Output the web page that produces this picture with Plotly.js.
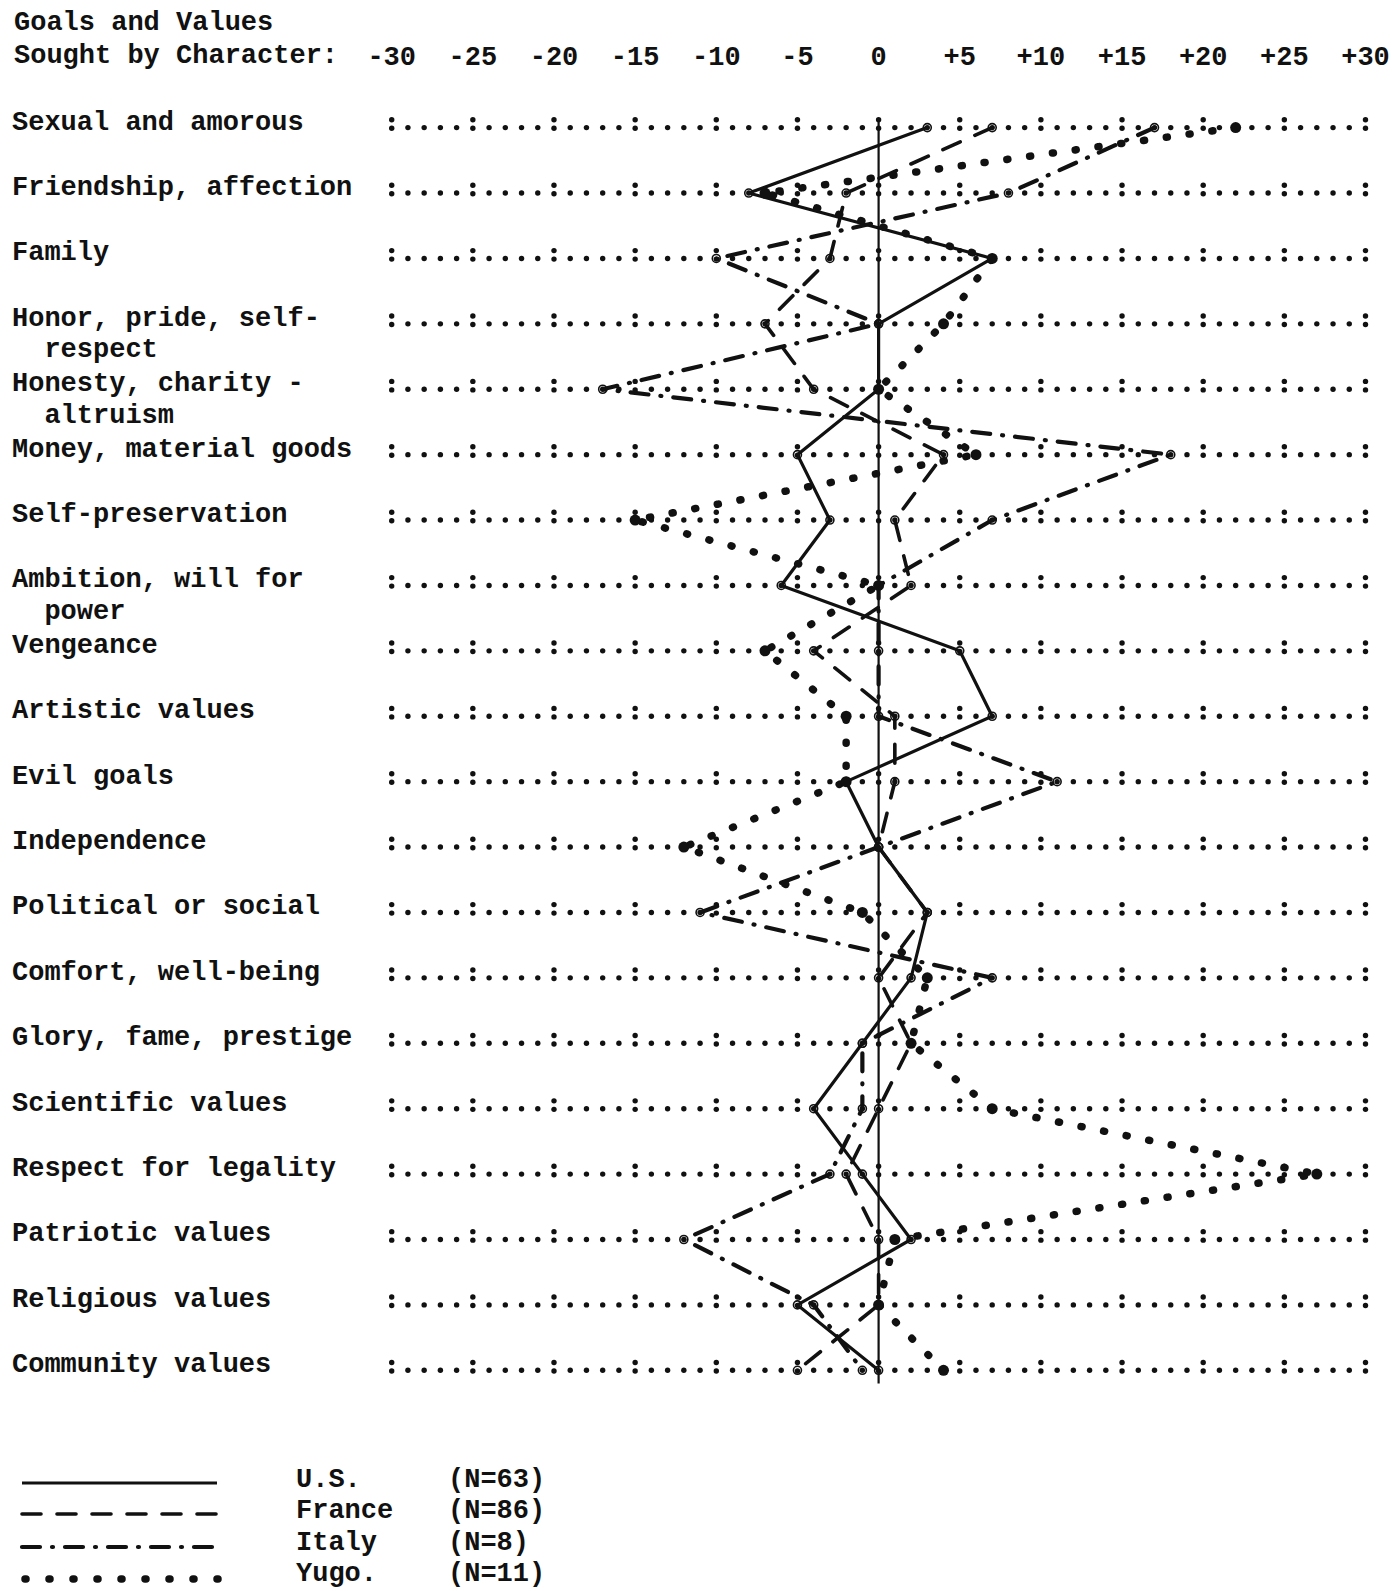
<!DOCTYPE html>
<html>
<head>
<meta charset="utf-8">
<script src="https://cdn.plot.ly/plotly-3.0.1.min.js"></script>
<style>
  html, body { margin: 0; padding: 0; background: #ffffff; }
  #chart { width: 1394px; height: 1591px; }
</style>
</head>
<body>
<div id="chart"></div>
<script>
// Goals and values sought by characters, scored per country (-30 .. +30)
const categories = [
  "Sexual and amorous",
  "Friendship, affection",
  "Family",
  "Honor, pride, self-\n  respect",
  "Honesty, charity -\n  altruism",
  "Money, material goods",
  "Self-preservation",
  "Ambition, will for\n  power",
  "Vengeance",
  "Artistic values",
  "Evil goals",
  "Independence",
  "Political or social",
  "Comfort, well-being",
  "Glory, fame, prestige",
  "Scientific values",
  "Respect for legality",
  "Patriotic values",
  "Religious values",
  "Community values"
];

const usValues     = [3, -8, 7, 0, 0, -5, -3, -6, 5, 7, -2, 0, 3, 2, -1, -4, -1, 2, -5, 0];
const franceValues = [7, -2, -3, -7, -4, 4, 1, 2, -4, 1, 1, 0, 3, 0, 2, 0, -2, 0, 0, -5];
const italyValues  = [17, 8, -10, 0, -17, 18, 7, 0, 0, 0, 11, 0, -11, 7, -1, -1, -3, -12, -4, -1];
const yugoValues   = [22, -7, 7, 4, 0, 6, -15, 0, -7, -2, -2, -12, -1, 3, 2, 7, 27, 1, 0, 4];

const seriesNames = ["U.S.", "France", "Italy", "Yugo."];
const sampleSizes = [63, 86, 8, 11];

const tickValues = [-30, -25, -20, -15, -10, -5, 0, 5, 10, 15, 20, 25, 30];
const tickLabels = ["-30", "-25", "-20", "-15", "-10", "-5", "0", "+5", "+10", "+15", "+20", "+25", "+30"];

const headerLines = ["Goals and Values", "Sought by Character:"];

// ---- styling ----
const INK = "#111111";
const FONT = { family: "'Liberation Mono', 'Courier New', monospace", size: 27, color: INK, weight: "bold" };

const seriesStyles = [
  { line: { color: INK, width: 3.2 }, marker: { symbol: "circle-open", size: 8, color: INK, line: { width: 1.6, color: INK } } },
  { line: { color: INK, width: 3.6, dash: "19px,16px" }, marker: { symbol: "circle-open", size: 8, color: INK, line: { width: 1.6, color: INK } }, round: true },
  { line: { color: INK, width: 4.2, dash: "18px,12px,1px,12px" }, marker: { symbol: "circle-open", size: 8, color: INK, line: { width: 1.6, color: INK } }, round: true },
  { line: { color: INK, width: 7.5, dash: "1px,22px" }, marker: { symbol: "circle", size: 11, color: INK }, round: true }
];
const seriesData = [usValues, franceValues, italyValues, yugoValues];

const rows = categories.map((_, i) => i);
const xMin = tickValues[0], xMax = tickValues[tickValues.length - 1];

// ---- typed row guides: a period at every unit, a colon at every tick ----
const dotX = [], dotY = [], colonX = [], colonTopY = [], colonBotY = [];
rows.forEach(r => {
  for (let v = xMin; v <= xMax; v++) {
    if (tickValues.includes(v)) {
      colonX.push(v); colonTopY.push(r - 0.12); colonBotY.push(r + 0.01);
    } else {
      dotX.push(v); dotY.push(r);
    }
  }
});

const guideMarker = { symbol: "circle", size: 5.4, color: INK };
const traces = [];
traces.push({ x: dotX, y: dotY, mode: "markers", type: "scatter", hoverinfo: "skip", cliponaxis: false, marker: guideMarker });
traces.push({ x: colonX, y: colonTopY, mode: "markers", type: "scatter", hoverinfo: "skip", cliponaxis: false, marker: guideMarker });
traces.push({ x: colonX, y: colonBotY, mode: "markers", type: "scatter", hoverinfo: "skip", cliponaxis: false, marker: guideMarker });

// zero reference line
traces.push({ x: [0, 0], y: [-0.13, rows.length - 1 + 0.2], mode: "lines", type: "scatter", hoverinfo: "skip",
  cliponaxis: false, line: { color: INK, width: 2.2 } });

// country profiles
seriesData.forEach((vals, k) => {
  const st = seriesStyles[k];
  traces.push({
    x: vals, y: rows, name: seriesNames[k], type: "scatter", mode: "lines+markers",
    cliponaxis: false, line: st.line, marker: st.marker, meta: st.round ? "round" : "plain"
  });
});

// legend samples, drawn on a full-page pixel axis pair
const legendY = [1483, 1514, 1547, 1579];
seriesNames.forEach((nm, k) => {
  const st = seriesStyles[k];
  traces.push({
    x: k === 3 ? [25, 218] : [22, 217], y: [legendY[k], legendY[k]],
    xaxis: "x2", yaxis: "y2", type: "scatter", mode: "lines", hoverinfo: "skip",
    cliponaxis: false, line: Object.assign({}, st.line, k === 3 ? { dash: "1px,23px" } : {}),
    meta: st.round ? "round" : "plain"
  });
});

const annotations = [];
// category labels
categories.forEach((c, i) => {
  c.split("\n").forEach((ln, j) => {
    annotations.push({
      text: ln.replace(/ /g, "\u00a0"), xref: "paper", x: 10 / 1394, yref: "y", y: i + j * 0.48,
      xanchor: "left", yanchor: "middle", yshift: 5, showarrow: false, font: FONT
    });
  });
});
// heading
headerLines.forEach((t, j) => {
  annotations.push({
    text: t, xref: "x2", yref: "y2", x: 12, y: [23, 56][j], xanchor: "left", yanchor: "middle",
    showarrow: false, font: FONT
  });
});
// legend labels
const legendTextY = [1480, 1511, 1543, 1574];
seriesNames.forEach((nm, k) => {
  annotations.push({ text: nm, xref: "x2", yref: "y2", x: 294, y: legendTextY[k], xanchor: "left",
    yanchor: "middle", showarrow: false, font: FONT });
  annotations.push({ text: "(N=" + sampleSizes[k] + ")", xref: "x2", yref: "y2", x: 446, y: legendTextY[k],
    xanchor: "left", yanchor: "middle", showarrow: false, font: FONT });
});

const layout = {
  width: 1394, height: 1591,
  margin: { l: 0, r: 0, t: 0, b: 0 },
  paper_bgcolor: "#ffffff", plot_bgcolor: "rgba(0,0,0,0)",
  showlegend: false,
  font: FONT,
  xaxis: {
    domain: [391.7 / 1394, 1365.5 / 1394], range: [xMin, xMax], side: "top", anchor: "y",
    tickvals: tickValues, ticktext: tickLabels, ticks: "", showgrid: false, zeroline: false,
    showline: false, tickfont: FONT, ticklabelstandoff: 4, fixedrange: true
  },
  yaxis: {
    domain: [1 - 1403 / 1591, 1 - 75.3 / 1591], range: [19.5, -0.8], visible: false, fixedrange: true
  },
  xaxis2: { domain: [0, 1], range: [0, 1394], visible: false, anchor: "y2", fixedrange: true },
  yaxis2: { domain: [0, 1], range: [1591, 0], visible: false, anchor: "x2", fixedrange: true },
  annotations: annotations
};

const gd = document.getElementById("chart");
Plotly.newPlot(gd, traces, layout, { staticPlot: true, displayModeBar: false }).then(() => {
  gd.querySelectorAll(".scatterlayer .trace").forEach(el => {
    const d = el.__data__;
    if (d && d[0] && d[0].trace && d[0].trace.meta === "round") {
      el.querySelectorAll(".js-line").forEach(p => { p.style.strokeLinecap = "round"; });
    }
  });
});
</script>
</body>
</html>
